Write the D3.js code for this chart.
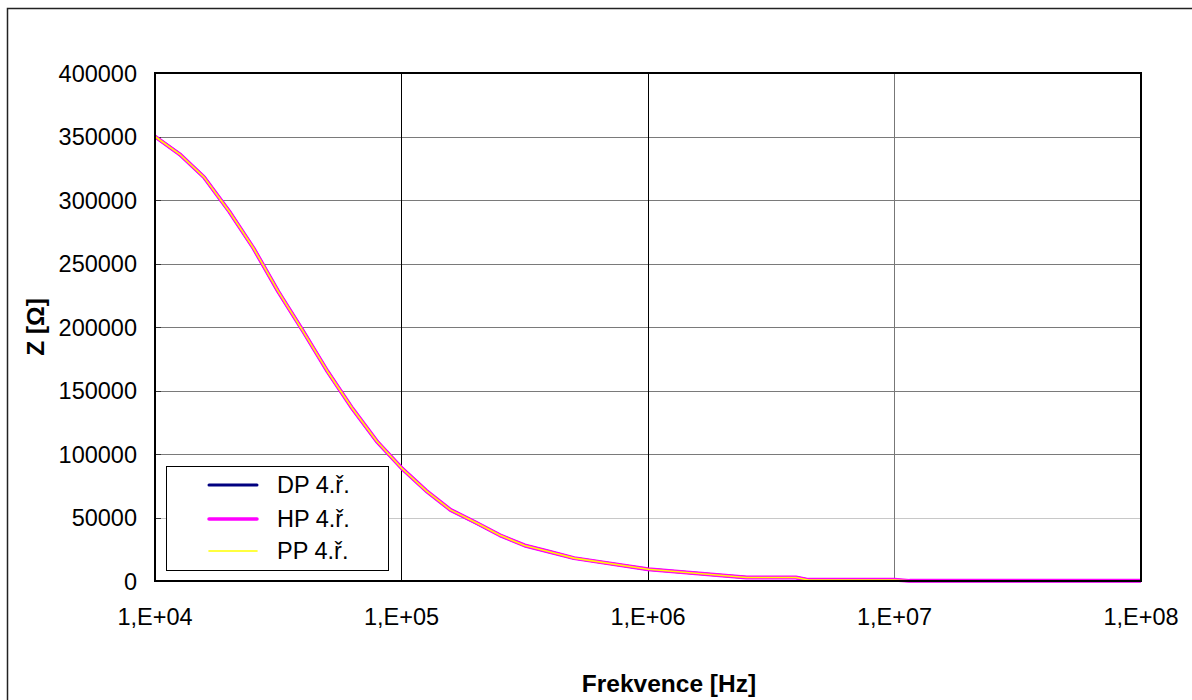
<!DOCTYPE html>
<html>
<head>
<meta charset="utf-8">
<script src="https://cdn.jsdelivr.net/npm/d3@7"></script>
<style>
  body { margin: 0; background: #fff; }
  text { font-family: "Liberation Sans", Arial, sans-serif; fill: #000; }
</style>
</head>
<body>
<div id="chart"></div>
<script>
// data
var freq = [1e4, 1.26e4, 1.58e4, 2e4, 2.51e4, 3.16e4, 3.98e4, 5.01e4, 6.31e4, 7.94e4,
  1e5, 1.26e5, 1.58e5, 2e5, 2.51e5, 3.16e5, 3.98e5, 5.01e5, 1e6,
  2.51e6, 3.98e6, 4.47e6, 1e7, 1.15e7, 1e8];
var zDP = [350000, 336000, 318000, 291000, 262000, 228000, 197000, 165000, 136000, 110000,
  89000, 71000, 56000, 46000, 36000, 28000, 23000, 18000, 9200,
  2700, 2700, 800, 800, 100, 100];
var zHP = [350000, 336000, 318000, 291000, 262000, 228000, 197000, 165000, 136000, 110000,
  89000, 71000, 56000, 46000, 36000, 28000, 23000, 18000, 9200,
  2700, 2700, 900, 900, 100, 100];
var zPP = [350000, 336000, 318000, 291000, 262000, 228000, 197000, 165000, 136000, 110000,
  89000, 71000, 56000, 46000, 36000, 28000, 23000, 18000, 9200,
  2700, 2700, 800, 800, 100, 100];
var seriesNames = ["DP 4.ř.", "HP 4.ř.", "PP 4.ř."];
var yTicks = [0, 50000, 100000, 150000, 200000, 250000, 300000, 350000, 400000];
var xTicks = [1e4, 1e5, 1e6, 1e7, 1e8];
var xTickLabels = ["1,E+04", "1,E+05", "1,E+06", "1,E+07", "1,E+08"];

var width = 1192, height = 700;
var plot = { left: 155, right: 1141, top: 73, bottom: 581 };

var svg = d3.select("#chart")
  .append("svg")
  .attr("width", width)
  .attr("height", height);

// outer chart frame (runs off the right/bottom edge)
svg.append("rect")
  .attr("x", 7.5).attr("y", 8.5)
  .attr("width", 1200).attr("height", 720)
  .attr("fill", "#fff")
  .attr("stroke", "#222")
  .attr("stroke-width", 1.5);

var x = d3.scaleLog()
  .domain([1e4, 1e8])
  .range([plot.left, plot.right]);

var y = d3.scaleLinear()
  .domain([0, 400000])
  .range([plot.bottom, plot.top]);

// horizontal gridlines
svg.append("g")
  .selectAll("line")
  .data(yTicks.slice(1, -1))
  .enter()
  .append("line")
  .attr("x1", plot.left).attr("x2", plot.right)
  .attr("y1", function(d) { return Math.round(y(d)) + 0.5; })
  .attr("y2", function(d) { return Math.round(y(d)) + 0.5; })
  .attr("stroke", function(d) { return d == 50000 ? "#c8c8c8" : "#7a7a7a"; })
  .attr("stroke-width", 1.2);

// vertical gridlines
svg.append("g")
  .selectAll("line")
  .data(xTicks.slice(1, -1))
  .enter()
  .append("line")
  .attr("y1", plot.top).attr("y2", plot.bottom)
  .attr("x1", function(d) { return Math.round(x(d)) + 0.5; })
  .attr("x2", function(d) { return Math.round(x(d)) + 0.5; })
  .attr("stroke", function(d) { return d == 1e7 ? "#777" : "#000"; })
  .attr("stroke-width", 1);

// y axis labels
svg.append("g")
  .selectAll("text")
  .data(yTicks)
  .enter()
  .append("text")
  .attr("x", 137)
  .attr("y", function(d) { return y(d) + 8.5; })
  .attr("text-anchor", "end")
  .style("font-size", "23.5px")
  .text(function(d) { return d; });

// small inside ticks on y axis
svg.append("g")
  .selectAll("line")
  .data(yTicks)
  .enter()
  .append("line")
  .attr("x1", plot.left).attr("x2", plot.left + 6)
  .attr("y1", function(d) { return Math.round(y(d)) + 0.5; })
  .attr("y2", function(d) { return Math.round(y(d)) + 0.5; })
  .attr("stroke", "#333");

// x axis labels
svg.append("g")
  .selectAll("text")
  .data(xTicks)
  .enter()
  .append("text")
  .attr("x", function(d) { return x(d); })
  .attr("y", 625)
  .attr("text-anchor", "middle")
  .style("font-size", "23.5px")
  .text(function(d, i) { return xTickLabels[i]; });

// axis titles
svg.append("text")
  .attr("x", 669)
  .attr("y", 692)
  .attr("text-anchor", "middle")
  .style("font-size", "24.5px")
  .style("font-weight", "bold")
  .text("Frekvence [Hz]");

svg.append("text")
  .attr("transform", "translate(44,327) rotate(-90)")
  .attr("text-anchor", "middle")
  .style("font-size", "24.5px")
  .style("font-weight", "bold")
  .text("Z [Ω]");

// series
var series = [
  { name: seriesNames[0], values: zDP, color: "#000080", w: 3 },
  { name: seriesNames[1], values: zHP, color: "#ff00ff", w: 4 },
  { name: seriesNames[2], values: zPP, color: "#ffff00", w: 1.6 }
];

var line = d3.line()
  .x(function(d) { return x(d[0]); })
  .y(function(d) { return y(d[1]); });

var clip = svg.append("clipPath").attr("id", "plotclip")
  .append("rect")
  .attr("x", plot.left - 3).attr("y", plot.top)
  .attr("width", plot.right - plot.left + 6)
  .attr("height", plot.bottom - plot.top + 2);

svg.append("g")
  .attr("clip-path", "url(#plotclip)")
  .selectAll("path")
  .data(series)
  .enter()
  .append("path")
  .attr("fill", "none")
  .attr("stroke", function(d) { return d.color; })
  .attr("stroke-width", function(d) { return d.w; })
  .attr("stroke-linejoin", "round")
  .attr("d", function(d) {
    return line(freq.map(function(f, i) { return [f, d.values[i]]; }));
  });

// plot frame
svg.append("rect")
  .attr("x", plot.left).attr("y", plot.top)
  .attr("width", plot.right - plot.left)
  .attr("height", plot.bottom - plot.top)
  .attr("fill", "none")
  .attr("stroke", "#000")
  .attr("stroke-width", 2);

// legend
var legend = svg.append("g");
legend.append("rect")
  .attr("x", 166.5).attr("y", 466.5)
  .attr("width", 222).attr("height", 104)
  .attr("fill", "#fff")
  .attr("stroke", "#000")
  .attr("stroke-width", 1);

var legY = [485, 519, 551];
legend.selectAll(".leg-line")
  .data(series)
  .enter()
  .append("line")
  .attr("class", "leg-line")
  .attr("x1", 209).attr("x2", 257)
  .attr("y1", function(d, i) { return legY[i]; })
  .attr("y2", function(d, i) { return legY[i]; })
  .attr("stroke", function(d) { return d.color; })
  .attr("stroke-width", function(d) { return d.w == 4 ? 3.5 : d.w; })
  .attr("stroke-linecap", "round");

legend.selectAll(".leg-text")
  .data(series)
  .enter()
  .append("text")
  .attr("class", "leg-text")
  .attr("x", 277)
  .attr("y", function(d, i) { return legY[i] + 7.5; })
  .style("font-size", "23.5px")
  .text(function(d) { return d.name; });
</script>
</body>
</html>
